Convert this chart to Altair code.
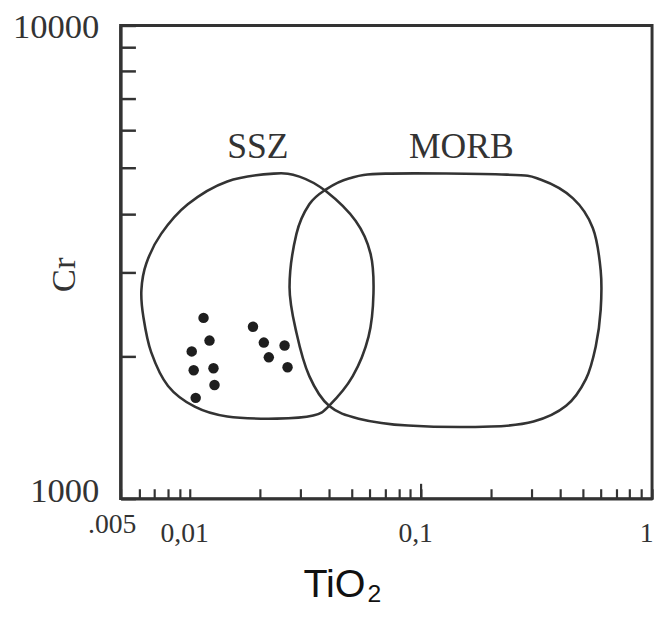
import altair as alt
import pandas as pd

# SSZ field outline (TiO2, Cr)
ssz_tio2 = [0.02301, 0.01448, 0.009768, 0.007489, 0.006459, 0.006151, 0.006274, 0.006786,
            0.008022, 0.010466, 0.01448, 0.02370, 0.03412, 0.03994, 0.05059, 0.05922,
            0.06221, 0.06040, 0.05211, 0.03878, 0.02973]
ssz_cr = [4863, 4680, 4189, 3627, 3140, 2758, 2422, 2037, 1730, 1564, 1491, 1476, 1498,
          1571, 1815, 2200, 2718, 3294, 3860, 4461, 4793]

# MORB field outline
morb_tio2 = [0.02694, 0.02886, 0.03281, 0.03878, 0.04864, 0.07002, 0.2351, 0.3286, 0.4548,
             0.5539, 0.5992, 0.5992, 0.5704, 0.5171, 0.4245, 0.3067, 0.2009, 0.08784,
             0.05368, 0.03994, 0.03281, 0.02886]
morb_cr = [2798, 3627, 4189, 4504, 4748, 4863, 4839, 4725, 4311, 3733, 3036, 2505, 2097,
           1789, 1571, 1455, 1420, 1427, 1476, 1571, 1815, 2242]

# samples
sample_tio2 = [0.01143, 0.01213, 0.01016, 0.01036, 0.01262, 0.01275, 0.01057,
               0.01871, 0.02085, 0.02564, 0.02191, 0.02641]
sample_cr = [2410, 2158, 2047, 1868, 1886, 1739, 1633, 2308, 2137, 2107, 1989, 1895]

# field labels
label_text = ["SSZ", "MORB"]
label_tio2 = [0.01966, 0.1494]
label_cr = [5536, 5536]

x_ticks = [0.005, 0.006, 0.007, 0.008, 0.009, 0.01, 0.02, 0.03, 0.04, 0.05, 0.06, 0.07,
           0.08, 0.09, 0.1, 0.2, 0.3, 0.4, 0.5, 0.6, 0.7, 0.8, 0.9, 1]
x_major = [0.1]
y_ticks = [1000, 2000, 3000, 4000, 5000, 6000, 7000, 8000, 9000, 10000]

fields = pd.concat([
    pd.DataFrame({"field": "SSZ", "i": range(len(ssz_tio2)), "TiO2": ssz_tio2, "Cr": ssz_cr}),
    pd.DataFrame({"field": "MORB", "i": range(len(morb_tio2)), "TiO2": morb_tio2, "Cr": morb_cr}),
])
samples = pd.DataFrame({"TiO2": sample_tio2, "Cr": sample_cr})
labels = pd.DataFrame({"text": label_text, "TiO2": label_tio2, "Cr": label_cr})
major = pd.DataFrame({"TiO2": x_major})

INK = "#333333"
W, H = 538, 479

xscale = alt.Scale(type="log", domain=[0.005, 1], nice=False)
yscale = alt.Scale(type="log", domain=[1000, 10000], nice=False)

xaxis = alt.Axis(
    title="TiO", values=x_ticks,
    labelExpr="datum.value == 0.005 ? '.005' : datum.value == 0.01 ? '0,01' : datum.value == 0.1 ? '0,1' : datum.value == 1 ? '1' : ''",
    labelOverlap=False, labelFlush=False, grid=False,
    tickSize=alt.ExprRef("-10"), tickWidth=2.2, tickColor=INK,
    domainColor=INK, domainWidth=3,
    labelFont="Liberation Serif", labelFontSize=28, labelColor=INK,
    labelPadding={"condition": {"test": "datum.value == 0.005", "value": 22}, "value": 31},
    labelOffset={"condition": {"test": "datum.value == 0.005", "value": -9}, "value": -6},
    labelBaseline="top",
    titleFont="Liberation Sans", titleFontSize=40, titleFontWeight="normal", titleColor="#111111",
    titleX=216, titleY=99, titleBaseline="alphabetic", titleAlign="center",
)
yaxis = alt.Axis(
    title="Cr", values=y_ticks,
    labelExpr="datum.value == 1000 ? '1000' : datum.value == 10000 ? '10000' : ''",
    labelOverlap=False, labelFlush=False, grid=False,
    tickSize=alt.ExprRef("-15"), tickWidth=2.5, tickColor=INK,
    domainColor=INK, domainWidth=3,
    labelFont="Liberation Serif", labelFontSize=35, labelColor=INK,
    labelPadding=37, labelBaseline="middle",
    labelOffset={"condition": {"test": "datum.value == 1000", "value": -8}, "value": 1},
    titleFont="Liberation Serif", titleFontSize=35, titleFontWeight="normal", titleColor=INK,
    titleAngle=270, titleX=-58, titleY=252, titleBaseline="middle", titleAlign="center",
)

base_x = alt.X("TiO2:Q", scale=xscale, axis=xaxis)
base_y = alt.Y("Cr:Q", scale=yscale, axis=yaxis)

outlines = alt.Chart(fields).mark_line(
    interpolate="cardinal-closed", color=INK, strokeWidth=2.6
).encode(
    x=base_x, y=base_y, detail="field:N", order="i:Q"
)

points = alt.Chart(samples).mark_circle(size=112, color="#1e1e1e", opacity=1).encode(
    x=alt.X("TiO2:Q", scale=xscale), y=alt.Y("Cr:Q", scale=yscale)
)

texts = alt.Chart(labels).mark_text(
    font="Liberation Serif", fontSize=36, color=INK, baseline="middle", align="center"
).encode(
    x=alt.X("TiO2:Q", scale=xscale), y=alt.Y("Cr:Q", scale=yscale), text="text:N"
)

# longer major tick at 0.1
major_tick = alt.Chart(major).mark_rule(color=INK, strokeWidth=2.2).encode(
    x=alt.X("TiO2:Q", scale=xscale), y=alt.value(H), y2=alt.value(H - 15)
)

# subscript of the x-axis title (TiO2)
subscript = alt.Chart(pd.DataFrame({"t": ["2"]})).mark_text(
    font="Liberation Sans", fontSize=25, color="#111111", baseline="alphabetic", align="center"
).encode(text="t:N", x=alt.value(257), y=alt.value(H + 105))

chart = alt.layer(outlines, points, texts, major_tick, subscript).properties(
    width=W, height=H,
    autosize=alt.AutoSizeParams(type="none"),
    padding={"left": 114, "top": 14, "right": 4, "bottom": 105},
    background="white",
).configure_view(stroke=INK, strokeWidth=3)

chart.save("out.html", embed_options={"renderer": "svg", "actions": False})
